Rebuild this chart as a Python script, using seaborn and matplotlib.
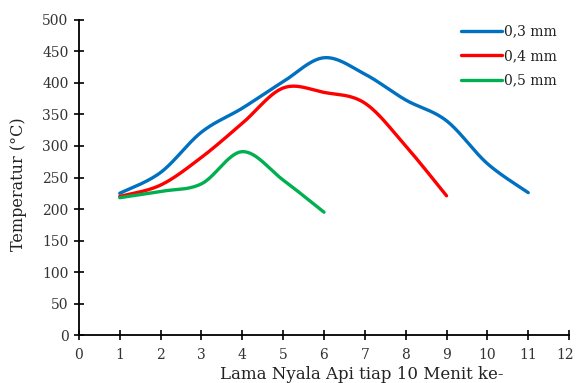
import numpy as np
import pandas as pd
import matplotlib
matplotlib.use("Agg")
import matplotlib.pyplot as plt
import matplotlib.transforms as mtransforms
import seaborn as sns

# Data
x_03 = [1, 2, 3, 4, 5, 6, 7, 8, 9, 10, 11]
y_03 = [225, 258, 322, 360, 402, 440, 414, 373, 340, 272, 226]
x_04 = [1, 2, 3, 4, 5, 6, 7, 8, 9]
y_04 = [220, 238, 282, 336, 392, 385, 368, 300, 221]
x_05 = [1, 2, 3, 4, 5, 6]
y_05 = [218, 228, 240, 291, 246, 195]
labels = ["0,3 mm", "0,4 mm", "0,5 mm"]
colors = ["#0070C0", "#FF0000", "#00B050"]


def smooth(xs, ys, n=30):
    """Excel-style smoothed line (cubic Bezier with Catmull-Rom control points)."""
    p = np.column_stack([xs, ys]).astype(float)
    out = [p[0]]
    for i in range(len(p) - 1):
        p0 = p[i - 1] if i > 0 else p[i]
        p1 = p[i]
        p2 = p[i + 1]
        p3 = p[i + 2] if i + 2 < len(p) else p[i + 1]
        c1 = p1 + (p2 - p0) / 6.0
        c2 = p2 - (p3 - p1) / 6.0
        t = np.linspace(0, 1, n + 1)[1:, None]
        seg = ((1 - t) ** 3) * p1 + 3 * ((1 - t) ** 2) * t * c1 + 3 * (1 - t) * t ** 2 * c2 + t ** 3 * p2
        out.extend(seg)
    out = np.array(out)
    return out[:, 0], out[:, 1]


frames = []
for lab, xs, ys in zip(labels, [x_03, x_04, x_05], [y_03, y_04, y_05]):
    sx, sy = smooth(xs, ys)
    frames.append(pd.DataFrame({"x": sx, "y": sy, "series": lab}))
df = pd.concat(frames, ignore_index=True)

sns.set_style("white")
plt.rcParams["font.family"] = ["DejaVu Serif"]

fig = plt.figure(figsize=(5.76, 3.83), dpi=100)
ax = fig.add_axes([0.137, 0.125, 0.851, 0.823])

sns.lineplot(data=df, x="x", y="y", hue="series", palette=colors, sort=False,
             estimator=None, units="series", linewidth=2.4, ax=ax, legend=True)

ax.set_xlim(0, 12)
ax.set_ylim(0, 500)
ax.set_xticks(range(0, 13))
ax.set_yticks(range(0, 501, 50))
ax.tick_params(bottom=True, left=True, direction="inout", length=7, width=1.2,
               labelsize=10, colors="black", labelcolor="#333333")
ax.tick_params(axis="x", pad=6)
ax.tick_params(axis="y", pad=4)
for s in ["top", "right"]:
    ax.spines[s].set_visible(False)
for s in ["left", "bottom"]:
    ax.spines[s].set_color("black")
    ax.spines[s].set_linewidth(1.3)

# keep the last x tick label inside the canvas
last = ax.xaxis.get_major_ticks()[-1].label1
last.set_transform(last.get_transform() +
                   mtransforms.ScaledTranslation(-3 / 72, 0, fig.dpi_scale_trans))

ax.set_xlabel("Lama Nyala Api tiap 10 Menit ke-", fontsize=12, color="#222222")
ax.xaxis.set_label_coords(0.578, -0.098)
ax.set_ylabel("Temperatur (\u00b0C)", fontsize=11.5, color="#222222")
ax.yaxis.set_label_coords(-0.106, 0.478)

leg = ax.legend(loc="upper right", bbox_to_anchor=(1.0, 1.025), frameon=False,
                fontsize=10, handlelength=3.0, handletextpad=0.1, labelspacing=0.75)
for t in leg.get_texts():
    t.set_color("#222222")
for h in leg.get_lines():
    h.set_linewidth(2.4)

fig.savefig("out.png", dpi=100)
